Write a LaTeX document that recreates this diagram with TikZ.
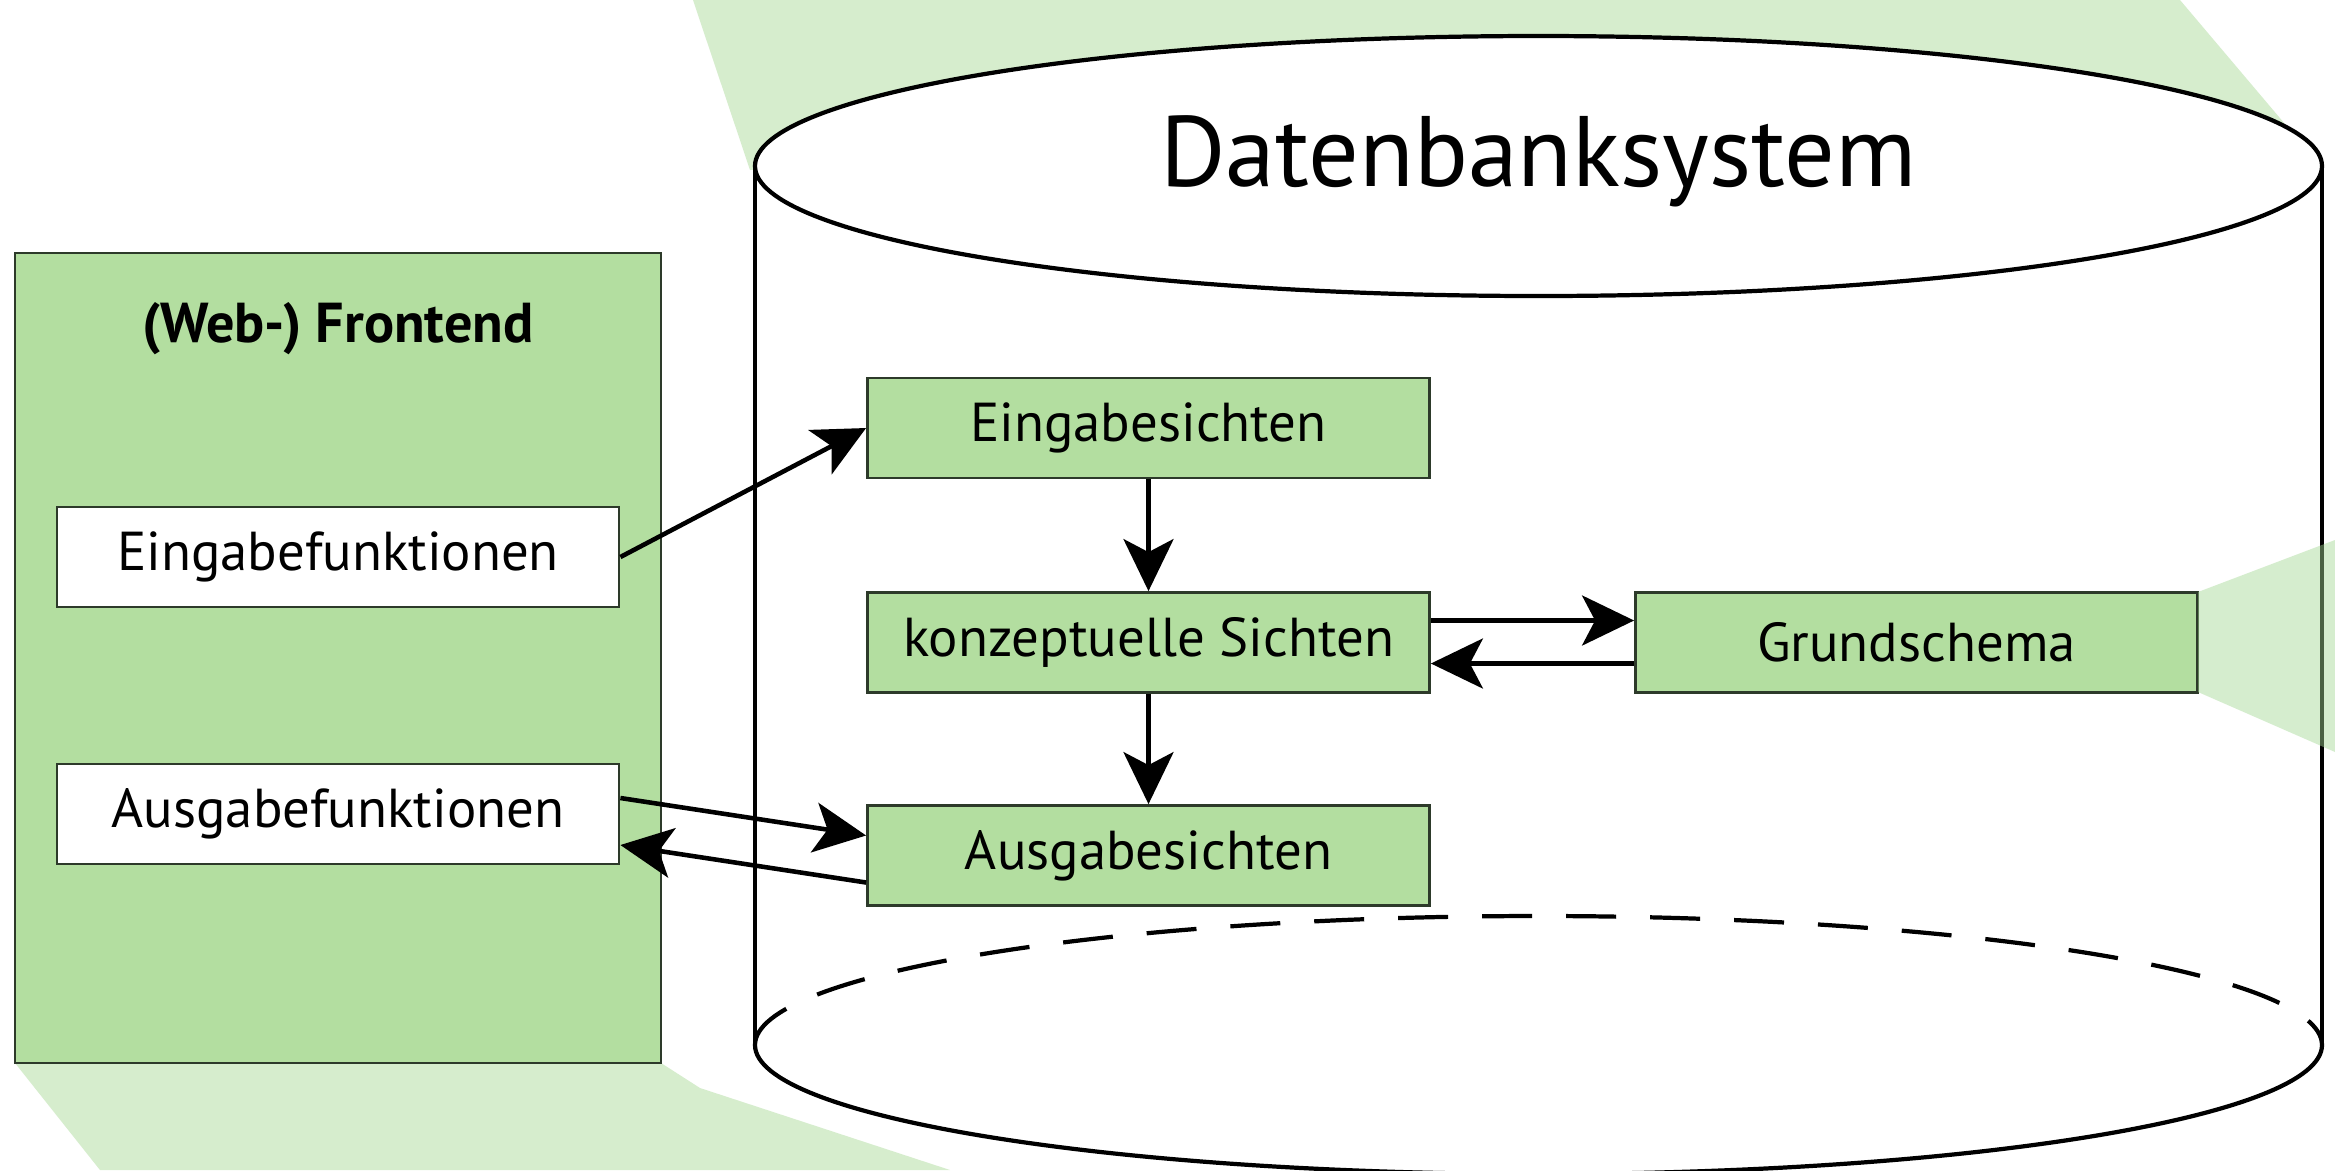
\documentclass[tikz,border=0pt]{standalone}
\usepackage{fontspec}
\setmainfont{PT Sans}
\usepackage{tikz}
\usetikzlibrary{arrows.meta}

\definecolor{hellgruen}{RGB}{214,237,205}
\definecolor{boxgruen}{RGB}{179,222,160}
\definecolor{spotgruen}{RGB}{164,217,148}
\definecolor{rahmen}{RGB}{45,58,42}

\tikzset{
	sicht/.style={draw=rahmen,line width=0.8pt,fill=boxgruen,minimum width=56.2mm,minimum height=10mm,inner sep=0pt,font=\fontsize{15.6pt}{18pt}\selectfont},
	funktion/.style={sicht,fill=white},
	pfeil/.style={line width=1.3pt,-{Stealth[length=5.2mm,width=5mm,inset=1.3mm]}},
	zylinder/.style={line width=1.2pt}
}

\begin{document}
\begin{tikzpicture}[x=0.1mm,y=-0.1mm]
	\fill[white] (0,0) rectangle (2335,1170);
	\useasboundingbox (0,0) rectangle (2335,1170);
	% helle Flaechen im Hintergrund
	\fill[hellgruen] (693,0) -- (2180,0) -- (2290,130) -- (750,170) -- cycle;
	\fill[hellgruen] (15,1063) -- (661,1063) -- (700,1088) -- (950,1170) -- (100,1170) -- cycle;
	% Zylinder
	\fill[white] (755,166) rectangle (2322,1045);
	\draw[zylinder] (755,166) -- (755,1045) (2322,166) -- (2322,1045);
	\draw[zylinder,fill=white] (1538.5,166) ellipse[x radius=783.5,y radius=130];
	\draw[zylinder] (755,1045) arc[start angle=180,end angle=0,x radius=783.5,y radius=129];
	\draw[zylinder,dash pattern=on 5mm off 3.4mm] (755,1045) arc[start angle=180,end angle=360,x radius=783.5,y radius=129];
	\node[anchor=base,font=\fontsize{28.5pt}{33pt}\selectfont] (titel) at (1538.5,186) {Datenbanksystem};
	% Frontend
	\node[draw=rahmen,line width=0.8pt,fill=boxgruen,minimum width=64.6mm,minimum height=81mm,inner sep=0pt] (frontend) at (338,658) {};
	\node[anchor=base,font=\bfseries\fontsize{16pt}{18pt}\selectfont] (webtitel) at (338,342) {(Web-) Frontend};
	\node[funktion] (einf) at (338,557) {Eingabefunktionen};
	\node[funktion] (ausf) at (338,814) {Ausgabefunktionen};
	% Sichten
	\node[sicht] (eins) at (1148.5,428) {Eingabesichten};
	\node[sicht] (konz) at (1148.5,642.5) {konzeptuelle Sichten};
	\node[sicht] (ausg) at (1148.5,855.5) {Ausgabesichten};
	\node[sicht] (grund) at (1916.5,642.5) {Grundschema};
	\fill[spotgruen,opacity=0.45] (2198,592) -- (2335,540) -- (2335,752) -- (2198,692) -- cycle;
	% Pfeile
	\draw[pfeil] (einf.east) -- (eins.west);
	\draw[pfeil] (eins) -- (konz);
	\draw[pfeil] (konz) -- (ausg);
	\draw[pfeil] ([yshift=2.2mm]konz.east) -- ([yshift=2.2mm]grund.west);
	\draw[pfeil] ([yshift=-2.1mm]grund.west) -- ([yshift=-2.1mm]konz.east);
	\draw[pfeil] ([yshift=1.6mm]ausf.east) -- ([yshift=2mm]ausg.west);
	\draw[pfeil] ([yshift=-2.7mm]ausg.west) -- ([yshift=-3.1mm]ausf.east);
\end{tikzpicture}
\end{document}
